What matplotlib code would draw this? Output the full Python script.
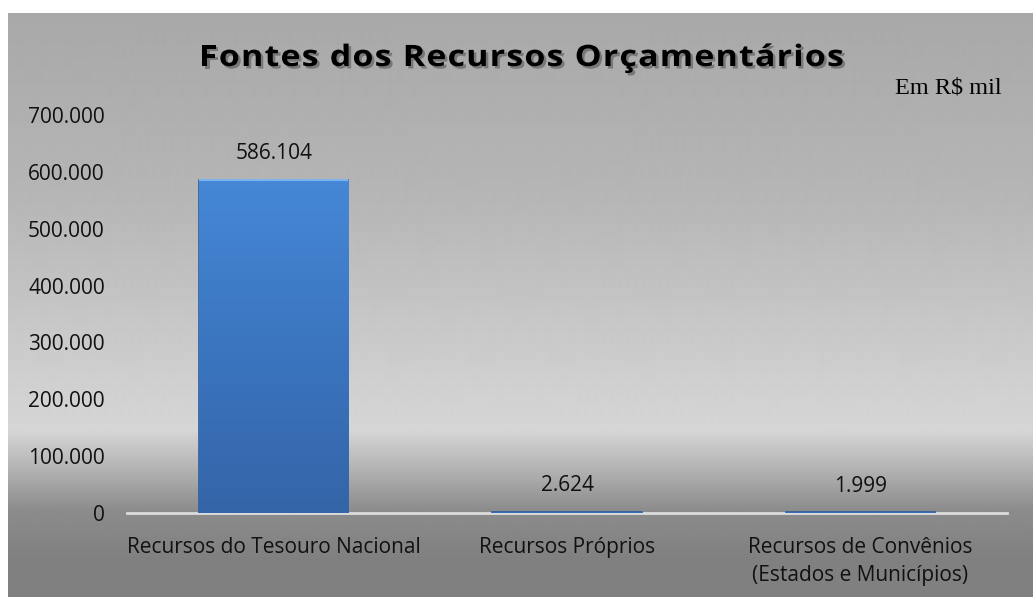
import numpy as np
import matplotlib
matplotlib.use('Agg')
import matplotlib.pyplot as plt
from matplotlib.textpath import TextPath
from matplotlib.font_manager import FontProperties, findfont
from matplotlib.ft2font import FT2Font
from matplotlib.patches import PathPatch
from matplotlib.transforms import Affine2D
from matplotlib.ticker import FuncFormatter
from matplotlib.colors import LinearSegmentedColormap

categories = ['Recursos do Tesouro Nacional', 'Recursos Próprios',
              'Recursos de Convênios\n(Estados e Municípios)']
values = [586104, 2624, 1999]
yticks = [0, 100000, 200000, 300000, 400000, 500000, 600000, 700000]
title = 'Fontes dos Recursos Orçamentários'

plt.rcParams['font.family'] = ['Open Sans', 'DejaVu Sans']

W, H = 1033, 597
fig = plt.figure(figsize=(W / 100, H / 100), dpi=100, facecolor='white')

# gray gradient panel behind the chart
bg = fig.add_axes([8 / W, 0, 1 - 8 / W, 1 - 13 / H])
bg.set_axis_off()
rows = np.arange(13, H)
stops_y = [13, 200, 400, 430, 470, 510, 560, 597]
stops_v = [168, 182, 210, 214, 178, 140, 128, 128]
grad = np.interp(rows, stops_y, stops_v) / 255
bg.imshow(np.repeat(grad[:, None], 2, axis=1), cmap='gray', vmin=0, vmax=1,
          aspect='auto', extent=[0, 1, 0, 1], interpolation='bilinear')

# letter-spaced, slightly widened title, drawn glyph by glyph in pixel space
pix = fig.add_axes([0, 0, 1, 1])
pix.set_xlim(0, W)
pix.set_ylim(H, 0)
pix.set_axis_off()
pix.patch.set_alpha(0)
tprop = FontProperties(family='Open Sans', weight='bold')
em = 29.5
sx = 1.15
ft = FT2Font(findfont(tprop))
ft.set_size(em, 72)
adv = [sx * ft.load_char(ord(c)).linearHoriAdvance / 65536 for c in title]
track = (640 - sum(adv[:-1]) - 12) / (len(title) - 1)
xpos = 199
for c, a in zip(title, adv):
    if c != ' ':
        p = TextPath((0, 0), c, size=em, prop=tprop)
        for dx, dy, al in [(2.5, 2.5, 0.3), (0, 0, 1)]:
            tr = Affine2D().scale(sx, -1).translate(xpos + dx, 66 + dy)
            pix.add_patch(PathPatch(tr.transform_path(p), facecolor='black',
                                    edgecolor='none', alpha=al))
    xpos += a + track

ax = fig.add_axes([127 / W, 1 - 513 / H, 880 / W, (513 - 115) / H])
ax.patch.set_alpha(0)
x = np.arange(len(categories))
bars = ax.bar(x, values, width=0.51, color='#4282cf', edgecolor='#2d5e9c',
              linewidth=1.2, zorder=3)
cmap = LinearSegmentedColormap.from_list('bar', ['#3465a8', '#3b75c0', '#4688d6'])
for b in bars:
    im = ax.imshow(np.linspace(0, 1, 100)[:, None], cmap=cmap, aspect='auto',
                   origin='lower', extent=[b.get_x(), b.get_x() + b.get_width(), 0, b.get_height()],
                   zorder=3)
    im.set_clip_path(b)
    top = b.get_height()
    if top > 50000:
        ax.plot([b.get_x(), b.get_x() + b.get_width()], [top, top], color='#7db4ee',
                lw=1.5, zorder=4, solid_capstyle='butt')
ax.set_xlim(-0.5, 2.5)
ax.set_ylim(0, 700000)
ax.set_yticks(yticks)
ax.yaxis.set_major_formatter(FuncFormatter(lambda v, p: f'{int(v):,}'.replace(',', '.')))
ax.set_xticks(x)
ax.set_xticklabels(categories, fontsize=15, color='#111111', linespacing=1.45)
ax.tick_params(axis='y', length=0, pad=16, labelsize=15, labelcolor='#111111')
ax.tick_params(axis='x', length=0, pad=17)
for s in ['top', 'right', 'left']:
    ax.spines[s].set_visible(False)
ax.spines['bottom'].set_color('#dcdcdc')
ax.spines['bottom'].set_linewidth(2)
ax.spines['bottom'].set_zorder(2)

for b, v in zip(bars, values):
    ax.annotate(f'{v:,}'.replace(',', '.'), (b.get_x() + b.get_width() / 2, v),
                xytext=(0, 11), textcoords='offset points', ha='center',
                va='bottom', fontsize=15, color='#111111')

fig.text(0.918, 0.853, 'Em R$ mil', ha='center', va='center', fontsize=17.5,
         family='Liberation Serif', color='black')

fig.savefig('out.png', dpi=100, facecolor=fig.get_facecolor())
